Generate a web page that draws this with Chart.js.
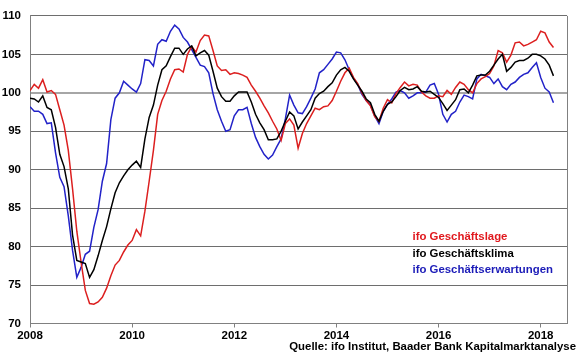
<!DOCTYPE html>
<html>
<head>
<meta charset="utf-8">
<script src="https://cdn.jsdelivr.net/npm/chart.js@4/dist/chart.umd.min.js"></script>
<style>
html,body{margin:0;padding:0;background:#fff;}
#wrap{width:580px;height:359px;position:relative;}
</style>
</head>
<body>
<div id="wrap"><canvas id="c" width="580" height="359"></canvas></div>
<script>
const startYear = 2008;
const seriesLabels = ["ifo Geschäftslage", "ifo Geschäftsklima", "ifo Geschäftserwartungen"];
const xTickValues = [2008, 2010, 2012, 2014, 2016, 2018];
const sourceText = "Quelle: ifo Institut, Baader Bank Kapitalmarktanalyse";

const lage = [
100.3,101.1,100.6,101.7,100.1,100.3,99.8,97.8,95.8,92.5,
87.5,82.0,78.0,74.3,72.6,72.5,72.8,73.4,74.6,76.2,
77.6,78.2,79.3,80.2,80.8,82.2,81.4,84.6,88.5,92.5,
97.2,99.0,100.2,101.8,103.0,103.1,102.7,105.0,106.0,105.3,
106.8,107.5,107.4,105.5,103.5,102.9,103.0,102.4,102.6,102.5,
102.3,102.0,101.0,100.2,99.3,98.3,97.4,96.3,95.3,93.8,
96.0,96.6,95.8,92.8,94.7,96.0,97.0,98.0,97.8,98.2,
98.3,99.0,100.2,101.5,102.6,103.2,102.0,101.2,100.0,99.0,
98.3,96.9,96.3,98.0,99.1,98.7,99.9,100.7,101.4,100.9,
101.1,101.0,100.1,99.6,99.3,99.3,99.6,99.5,100.3,99.8,
100.7,101.4,101.1,100.4,100.0,101.2,101.8,102.1,102.5,103.5,
105.5,105.2,104.0,104.9,106.5,106.6,106.1,106.3,106.6,106.9,
108.0,107.8,106.6,105.9
];
const klima = [
99.3,99.2,98.8,99.6,98.1,97.8,95.5,92.0,90.4,87.5,
81.5,78.2,78.0,77.8,76.0,77.0,78.8,80.8,82.6,84.9,
87.0,88.3,89.2,90.0,90.6,91.1,90.3,94.0,96.8,98.4,
101.0,103.0,103.5,104.7,105.8,105.8,105.0,105.7,106.1,104.8,
105.2,105.5,104.9,102.8,100.6,99.5,98.9,98.9,99.6,100.1,
100.1,100.1,98.8,97.2,96.1,95.2,93.9,93.9,94.0,95.0,
96.3,97.5,97.0,95.3,96.2,97.0,97.8,99.3,99.9,100.2,
100.8,101.3,102.3,103.0,103.3,102.8,101.8,101.0,100.2,99.2,
98.7,97.2,96.3,97.6,98.5,98.8,99.5,100.3,100.7,100.4,
100.5,100.8,100.2,100.1,100.2,99.8,99.4,98.6,97.7,98.4,
99.1,100.4,100.5,100.0,101.0,102.2,102.3,102.3,102.8,103.6,
104.4,105.0,102.8,103.3,104.0,104.2,104.2,104.5,105.0,105.0,
104.8,104.4,103.6,102.2
];
const erwartungen = [
98.2,97.6,97.6,97.2,96.0,96.1,92.2,89.0,87.8,84.0,
79.5,76.0,77.3,79.0,79.4,82.5,84.8,88.5,90.8,96.5,
99.3,100.0,101.5,101.0,100.5,100.1,101.2,104.3,104.2,103.5,
106.3,106.9,106.7,108.0,108.8,108.3,107.2,106.6,105.6,104.6,
103.6,103.4,102.6,99.9,97.8,96.3,95.0,95.2,97.0,97.8,
97.8,98.1,96.0,94.2,93.0,92.0,91.4,91.9,93.0,94.0,
96.6,99.7,98.4,97.4,97.3,98.2,99.3,100.5,102.6,103.0,
103.7,104.4,105.3,105.2,104.3,103.0,101.9,101.1,99.8,99.0,
98.4,97.0,96.0,97.6,98.5,99.2,100.1,100.3,100.0,99.3,
99.6,100.0,100.0,100.1,101.0,101.2,99.8,97.2,96.2,97.2,
97.6,98.8,99.7,99.5,99.2,101.8,102.4,102.2,102.0,101.2,
101.8,100.8,100.4,101.1,101.4,102.0,102.4,102.6,103.3,103.9,
102.0,100.6,100.1,98.7
];

const lineColors = ["#dc1f1f", "#000000", "#2222c8"];
const textColors = ["#e0191e", "#000000", "#1c1cb8"];
const FONT = "'Liberation Sans', Arial, sans-serif";

function toPoints(arr){ return arr.map((v,i)=>({x: startYear + i/12, y: v})); }

const extras = {
  id: 'extras',
  afterDraw(chart){
    const {ctx, chartArea} = chart;
    ctx.save();
    ctx.strokeStyle = '#808080';
    ctx.lineWidth = 1;
    ctx.beginPath();
    ctx.moveTo(Math.round(chartArea.right)+0.5, chartArea.top);
    ctx.lineTo(Math.round(chartArea.right)+0.5, chartArea.bottom);
    ctx.stroke();
    ctx.font = "bold 11.4px " + FONT;
    ctx.textBaseline = 'middle';
    ctx.textAlign = 'left';
    const ys = [237, 253.5, 270];
    chart.data.datasets.forEach((ds, i) => {
      ctx.fillStyle = textColors[i];
      ctx.fillText(ds.label, 412.5, ys[i]);
    });
    ctx.fillStyle = '#000';
    ctx.textAlign = 'right';
    ctx.fillText(sourceText, 576, 347);
    ctx.restore();
  }
};

new Chart(document.getElementById('c'), {
  type: 'line',
  data: {
    datasets: [
      {label: seriesLabels[0], data: toPoints(lage), borderColor: lineColors[0], order: 1},
      {label: seriesLabels[1], data: toPoints(klima), borderColor: lineColors[1], order: 0},
      {label: seriesLabels[2], data: toPoints(erwartungen), borderColor: lineColors[2], order: 2}
    ]
  },
  options: {
    responsive: false,
    animation: false,
    devicePixelRatio: 1,
    layout: {padding: {top: 9, right: 13, left: 0, bottom: 0}},
    elements: {
      line: {borderWidth: 1.5, tension: 0, fill: false},
      point: {radius: 0}
    },
    plugins: {legend: {display: false}, tooltip: {enabled: false}},
    scales: {
      x: {
        type: 'linear',
        min: 2008,
        max: 2018.515,
        afterFit(s){ s.height = 35.5; },
        afterBuildTicks(s){ s.ticks = xTickValues.map(v => ({value: v})); },
        grid: {drawOnChartArea: false, drawTicks: true, tickLength: 4, color: '#808080'},
        border: {display: true, color: '#808080'},
        ticks: {
          font: {family: FONT, size: 11.5, weight: 'bold'},
          color: '#000',
          padding: 1.5,
          maxRotation: 0,
          callback: v => String(v)
        }
      },
      y: {
        min: 70,
        max: 110,
        afterFit(s){ s.width = 30; },
        grid: {
          drawTicks: false,
          color: c => (c.tick && c.tick.value === 100) ? '#a6a6a6' : '#6e6e6e',
          lineWidth: c => (c.tick && c.tick.value === 100) ? 2 : 1
        },
        border: {display: true, color: '#808080'},
        ticks: {
          stepSize: 5,
          font: {family: FONT, size: 11.5, weight: 'bold'},
          color: '#000',
          padding: 9
        }
      }
    }
  },
  plugins: [extras]
});
</script>
</body>
</html>
